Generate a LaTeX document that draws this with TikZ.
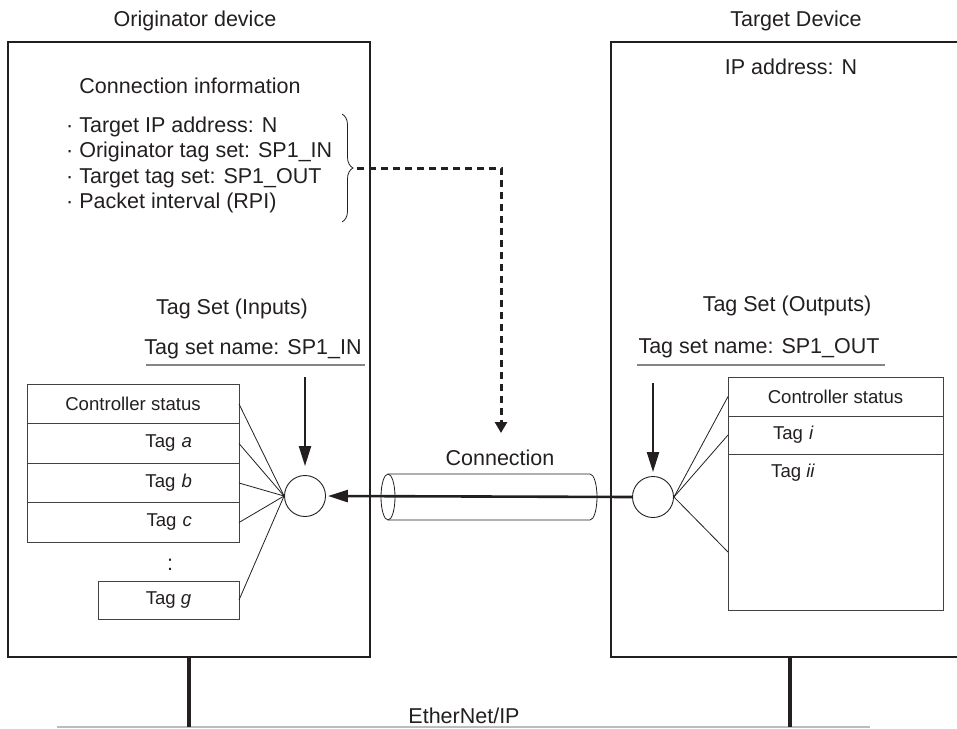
\documentclass[tikz,border=0pt]{standalone}
\usepackage{fontspec}
\setmainfont{Liberation Sans}
\usepackage{xcolor}
\usetikzlibrary{positioning,arrows.meta,decorations.pathreplacing}

\definecolor{ink}{HTML}{231F20}
\newcommand\mainfs{\fontsize{21.5}{25.3}\selectfont}
\newcommand\tagfs{\fontsize{18.6}{22}\selectfont}

\begin{document}
\begin{tikzpicture}[
  x=1pt, y=-1pt,
  node distance = 0pt,
  every node/.style = {text=ink},
  lbl/.style    = {font=\mainfs, inner sep=0pt},
  dev/.style    = {draw=ink, line width=2.7pt, inner sep=0pt},
  cell/.style   = {draw=ink!85, line width=0.9pt, inner sep=0pt, outer sep=0pt,
                   font=\tagfs},
  lcell/.style  = {cell, minimum width=212pt, minimum height=39.5pt},
  rcell/.style  = {cell, minimum width=215pt},
  hub/.style    = {circle, draw=ink, line width=0.9pt, minimum size=41pt, inner sep=0pt},
  uline/.style  = {line width=1.2pt, ink!55},
  fan/.style    = {line width=0.8pt, ink},
  arr/.style    = {-{Triangle[length=20pt,width=12pt]}, line width=2.2pt, ink},
  dasharr/.style= {-{Triangle[length=11pt,width=12pt]}, line width=3pt, ink,
                   dash pattern=on 7pt off 5pt},
  drop/.style   = {line width=4pt, ink},
]
\useasboundingbox (0,0) rectangle (957,728);

% devices
\node[dev, minimum width=362pt, minimum height=615pt] (origbox) at (189,349.5) {};
\node[dev, minimum width=358pt, minimum height=615pt] (targbox) at (790,349.5) {};
\node[lbl] (origttl) at (195,21) {Originator device};
\node[lbl] (targttl) at (796,21) {Target Device};

\node[lbl] (conninfo) at (190,86) {Connection information};
\node[lbl, align=left, anchor=west] (infolist) at (66,165)
  {\textperiodcentered{} Target IP address: N\\
   \textperiodcentered{} Originator tag set: SP1\_IN\\
   \textperiodcentered{} Target tag set: SP1\_OUT\\
   \textperiodcentered{} Packet interval (RPI)};
\draw[decorate, decoration={brace, amplitude=11pt}, line width=0.8pt, ink]
  (342,114) -- (342,222);
\coordinate (btip) at (357,168);
\node[lbl] (ipaddr) at (791,67) {IP address: N};

% tag sets
\node[lbl] (inset) at (232,309) {Tag Set (Inputs)};
\node[lbl] (inname) at (253,349) {Tag set name: SP1\_IN};
\draw[uline] (146,365) -- (365,365);
\node[lbl] (outset) at (787,306) {Tag Set (Outputs)};
\node[lbl] (outname) at (759,348) {Tag set name: SP1\_OUT};
\draw[uline] (637,365) -- (885,365);

\node[lcell] (ics) at (133,404) {Controller status};
\node[lcell, below=of ics, text width=118pt, align=right] (ita) {Tag \textit{a}};
\node[lcell, below=of ita, text width=118pt, align=right] (itb) {Tag \textit{b}};
\node[lcell, below=of itb, text width=118pt, align=right] (itc) {Tag \textit{c}};
\node[lbl] (idots) at (170,565) {:};
\node[cell, minimum width=141pt, minimum height=38pt] (itg) at (168.5,600) {Tag \textit{g}};

\node[rcell, minimum height=39pt] (ocs) at (835.5,396.5) {Controller status};
\node[rcell, minimum height=38pt, below=of ocs, text width=125pt, align=left] (oti) {Tag \textit{i}};
\node[rcell, minimum height=156pt, below=of oti,
      label={[font=\tagfs, anchor=north west, inner sep=0pt, xshift=43pt, yshift=-10pt]north west:Tag \textit{ii}}] (orest) {};

% connection
\node[hub] (ihub) at (305,496) {};
\node[hub] (ohub) at (653,497) {};
\draw[line width=0.8pt, ink] (388,474) -- (590,474)
  arc[start angle=-90, end angle=90, x radius=7, y radius=23] -- (388,520);
\draw[line width=0.8pt, ink] (388,497) ellipse[x radius=7, y radius=23];
\node[lbl] (connlbl) at (500,458) {Connection};
\coordinate (dashend) at (501,433);

\draw[dasharr] (btip) -| (dashend);
\draw[arr, shorten >=9pt] (305,377) -- (ihub.north);
\draw[arr, shorten >=4pt] (653,383) -- (ohub.north);
\draw[arr, line width=2.6pt, shorten >=2pt] (ohub.west) -- (ihub.east);

\foreach \c in {ics,ita,itb,itc,itg}
  \draw[fan] (\c.east) -- (ihub.west);
\draw[fan] (ohub.east) -- (ocs.west);
\draw[fan] (ohub.east) -- (oti.west);
\draw[fan] (ohub.east) -- ([yshift=-20pt]orest.west);

% network
\coordinate (ethL) at (57,727);
\coordinate (ethR) at (870,727);
\node[lbl] (ethlbl) at (464,716) {EtherNet/IP};
\draw[line width=2pt, ink!30] (ethL) -- (ethR);
\draw[drop] (origbox.south) -- (origbox.south |- ethL);
\draw[drop] (targbox.south) -- (targbox.south |- ethL);

\end{tikzpicture}
\end{document}
